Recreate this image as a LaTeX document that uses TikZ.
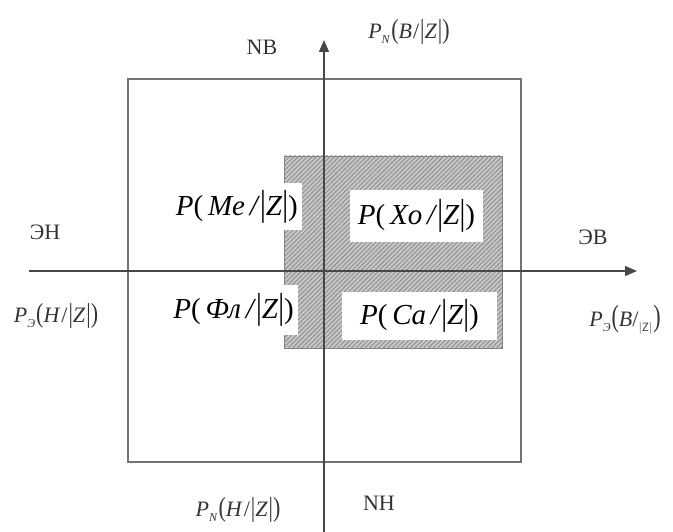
\documentclass[tikz,border=0pt]{standalone}
\usepackage{fontspec}
\setmainfont{Liberation Serif}
\usetikzlibrary{arrows.meta,patterns.meta}
\newcommand\lsub[1]{\raisebox{-0.45ex}{\fontsize{12}{13}\selectfont #1}\kern1pt}
\newcommand\tallp[1]{\scalebox{1}[1.25]{#1}}
\newcommand\pbig[1]{\textit{P}(\,\textit{#1}\,\textit{/}\tallp{|}\textit{Z}\tallp{|})}
\newcommand\psmall[2]{\textit{P}\lsub{\textit{#1}}\tallp{(}\textit{#2}\kern1pt/\kern1pt\tallp{|}\textit{Z}\kern1pt\tallp{|}\tallp{)}}
\begin{document}
\begin{tikzpicture}[x=1pt,y=-1pt,
  frame/.style={draw=black!55,line width=1.4pt},
  axis/.style={draw=black!72,line width=1.3pt},
  arr/.style={-{Triangle[length=12pt,width=10pt]}},
  shade/.style={draw=black!50,line width=0.8pt,fill=black!22,
    postaction={pattern={Lines[angle=45,distance=3.2pt,line width=0.9pt]},pattern color=black!45}},
  big/.style={font=\fontsize{29}{32}\selectfont,fill=white,inner sep=0pt},
  lab/.style={font=\fontsize{22}{24}\selectfont,text=black!80},
  plab/.style={font=\fontsize{22}{26}\selectfont,text=black!80}]
\useasboundingbox (0,0) rectangle (673,532);
% outer square
\draw[frame] (128,79) rectangle (521,462);
% shaded region
\path[shade] (284,156) rectangle (502,348);
% white text boxes
\node[big,anchor=east,minimum height=47pt,inner xsep=4pt] (me) at (302,206.5) {\pbig{Me}};
\node[big,minimum width=133pt,minimum height=52pt] (xo) at (416.5,216) {\pbig{Xo}};
\node[big,anchor=east,minimum height=50pt,inner xsep=4pt] (fl) at (298,310) {\pbig{Фл}};
\node[big,minimum width=155pt,minimum height=48pt] (ca) at (419.5,316) {\pbig{Ca}};
% axes
\coordinate (xl) at (29,271);
\coordinate (xr) at (637,271);
\coordinate (yb) at (324,532);
\coordinate (yt) at (324,40);
\draw[axis,arr] (xl) -- (xr);
\draw[axis,arr] (yb) -- (yt);
% labels
\node[lab] (nb) at (262,47) {NB};
\node[lab] (nh) at (379,503) {NH};
\node[lab] (en) at (45,232) {ЭН};
\node[lab] (ev) at (593,237) {ЭВ};
\node[plab] (pnb) at (409,32) {\psmall{N}{B}};
\node[plab] (pnh) at (238,510) {\psmall{N}{H}};
\node[plab] (peh) at (56,316) {\psmall{Э}{H}};
\node[plab] (peb) at (625,320) {\textit{P}\lsub{\textit{Э}}\scalebox{1}[1.4]{(}\textit{B}/\lsub{\textsf{|Z|}}\scalebox{1}[1.4]{)}};
\end{tikzpicture}
\end{document}
